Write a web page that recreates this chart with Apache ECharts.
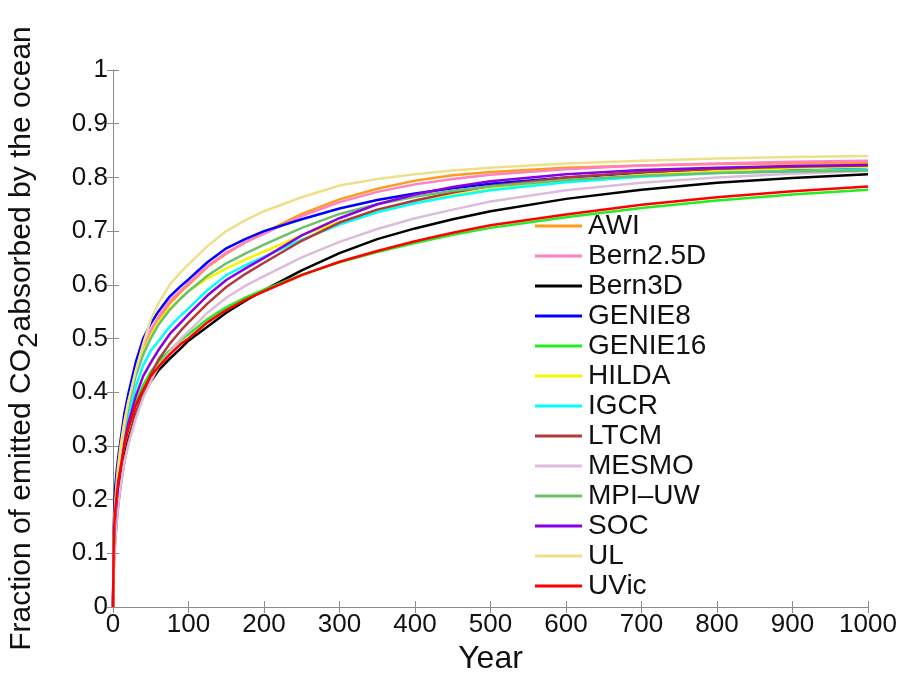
<!DOCTYPE html>
<html>
<head>
<meta charset="utf-8">
<script src="https://cdn.jsdelivr.net/npm/echarts@6/dist/echarts.min.js"></script>
<style>
html,body{margin:0;padding:0;background:#fff;}
#chart{width:898px;height:673px;}
</style>
</head>
<body>
<div id="chart"></div>
<script>
const years = [0,1,2,3,5,7,10,15,20,30,40,50,60,75,90,100,125,150,175,200,250,300,350,400,450,500,600,700,800,900,1000];
const modelNames = ['AWI','Bern2.5D','Bern3D','GENIE8','GENIE16','HILDA','IGCR','LTCM','MESMO','MPI\u2013UW','SOC','UL','UVic'];
const modelColors = ['#ff9a1a','#ff80c4','#000000','#0000ff','#22ee22','#f5f500','#00ffff','#b03a3a','#dcbcdc','#6cbf6c','#8a00e6','#eee08a','#ff0000'];

const AWI     = [0,0.12,0.165,0.195,0.235,0.265,0.30,0.345,0.38,0.44,0.478,0.51,0.535,0.565,0.587,0.60,0.633,0.658,0.679,0.697,0.732,0.759,0.779,0.794,0.804,0.81,0.818,0.822,0.825,0.826,0.827];
const Bern25D = [0,0.12,0.165,0.195,0.235,0.265,0.30,0.345,0.38,0.44,0.48,0.515,0.54,0.57,0.59,0.603,0.635,0.66,0.679,0.695,0.728,0.754,0.773,0.787,0.797,0.805,0.815,0.822,0.826,0.829,0.831];
const Bern3D  = [0,0.09,0.12,0.15,0.185,0.21,0.24,0.28,0.31,0.36,0.395,0.42,0.44,0.462,0.482,0.496,0.522,0.548,0.57,0.59,0.627,0.659,0.685,0.705,0.722,0.737,0.76,0.777,0.79,0.799,0.806];
const GENIE8  = [0,0.15,0.2,0.225,0.255,0.28,0.31,0.36,0.395,0.455,0.50,0.528,0.55,0.578,0.598,0.61,0.642,0.668,0.685,0.70,0.722,0.742,0.758,0.77,0.78,0.788,0.80,0.808,0.813,0.816,0.818];
const GENIE16 = [0,0.12,0.16,0.18,0.21,0.237,0.263,0.303,0.335,0.382,0.413,0.438,0.456,0.478,0.497,0.508,0.536,0.558,0.576,0.591,0.619,0.642,0.661,0.678,0.693,0.706,0.726,0.743,0.757,0.768,0.777];
const HILDA   = [0,0.12,0.165,0.195,0.235,0.265,0.30,0.345,0.38,0.435,0.475,0.505,0.53,0.556,0.575,0.588,0.612,0.63,0.647,0.662,0.692,0.717,0.737,0.754,0.767,0.778,0.794,0.805,0.812,0.817,0.820];
const IGCR    = [0,0.11,0.15,0.175,0.21,0.24,0.275,0.32,0.355,0.41,0.45,0.477,0.495,0.522,0.543,0.556,0.59,0.618,0.636,0.652,0.684,0.712,0.735,0.752,0.765,0.776,0.791,0.801,0.808,0.812,0.815];
const LTCM    = [0,0.07,0.1,0.125,0.16,0.19,0.225,0.27,0.305,0.36,0.40,0.433,0.46,0.49,0.515,0.53,0.565,0.596,0.62,0.641,0.682,0.716,0.74,0.757,0.772,0.784,0.80,0.81,0.816,0.82,0.822];
const MESMO   = [0,0.07,0.1,0.125,0.16,0.19,0.225,0.27,0.30,0.35,0.39,0.42,0.447,0.475,0.50,0.513,0.548,0.576,0.598,0.616,0.651,0.68,0.704,0.724,0.74,0.755,0.776,0.79,0.80,0.807,0.812];
const MPIUW   = [0,0.11,0.155,0.18,0.215,0.245,0.28,0.33,0.37,0.43,0.47,0.50,0.525,0.553,0.575,0.588,0.617,0.64,0.658,0.675,0.706,0.732,0.75,0.764,0.775,0.783,0.795,0.803,0.808,0.811,0.813];
const SOC     = [0,0.1,0.14,0.165,0.2,0.228,0.26,0.305,0.34,0.392,0.43,0.455,0.478,0.508,0.53,0.545,0.58,0.609,0.63,0.65,0.692,0.724,0.75,0.768,0.782,0.793,0.806,0.814,0.818,0.821,0.823];
const UL      = [0,0.11,0.15,0.18,0.22,0.25,0.29,0.34,0.38,0.44,0.49,0.535,0.565,0.60,0.624,0.638,0.672,0.70,0.72,0.737,0.763,0.785,0.797,0.806,0.813,0.818,0.826,0.831,0.835,0.838,0.840];
const UVic    = [0,0.12,0.16,0.18,0.21,0.235,0.26,0.30,0.33,0.375,0.405,0.43,0.447,0.47,0.49,0.50,0.53,0.553,0.572,0.588,0.618,0.643,0.663,0.681,0.697,0.711,0.731,0.749,0.763,0.774,0.783];

const modelValues = [AWI,Bern25D,Bern3D,GENIE8,GENIE16,HILDA,IGCR,LTCM,MESMO,MPIUW,SOC,UL,UVic];
const xTicks = [0,100,200,300,400,500,600,700,800,900,1000];
const yTicks = [0,0.1,0.2,0.3,0.4,0.5,0.6,0.7,0.8,0.9,1];

const FONT = '"Liberation Sans", Arial, sans-serif';
const axisGray = '#8a8a8a';

const series = modelNames.map((n, i) => ({
  name: n,
  type: 'line',
  xAxisIndex: 0,
  yAxisIndex: 0,
  data: years.map((y, k) => [y, modelValues[i][k]]),
  showSymbol: false,
  symbol: 'none',
  smooth: false,
  lineStyle: { color: modelColors[i], width: 2.5, join: 'round' },
  itemStyle: { color: modelColors[i] },
  z: 2 + i
}));

const chart = echarts.init(document.getElementById('chart'), null, { renderer: 'canvas' });
chart.setOption({
  animation: false,
  backgroundColor: '#ffffff',
  grid: { left: 113, right: 30, top: 70, bottom: 66, containLabel: false, outerBoundsMode: 'none' },
  legend: {
    orient: 'vertical',
    left: 535,
    top: 211,
    icon: 'rect',
    itemWidth: 47,
    itemHeight: 3,
    itemGap: 0,
    padding: 0,
    data: modelNames,
    textStyle: { fontFamily: FONT, fontSize: 28, color: '#111', lineHeight: 30, padding: [0,0,0,1] }
  },
  xAxis: [
    {
      type: 'value', min: xTicks[0], max: xTicks[xTicks.length-1], interval: 100,
      position: 'bottom',
      name: 'Year', nameLocation: 'middle', nameGap: 31,
      nameTextStyle: { fontFamily: FONT, fontSize: 32, color: '#111', verticalAlign: 'top' },
      axisLine: { show: true, lineStyle: { color: axisGray, width: 1 } },
      axisTick: { show: true, inside: true, length: 6, lineStyle: { color: axisGray } },
      axisLabel: { fontFamily: FONT, fontSize: 26, color: '#111', margin: 5, formatter: v => String(v) },
      splitLine: { show: false }
    },
    {
      type: 'value', min: xTicks[0], max: xTicks[xTicks.length-1], interval: 100,
      position: 'top',
      axisLine: { show: true, lineStyle: { color: axisGray, width: 1 } },
      axisTick: { show: true, inside: true, length: 6, lineStyle: { color: axisGray } },
      axisLabel: { show: false },
      splitLine: { show: false }
    }
  ],
  yAxis: [
    {
      type: 'value', min: yTicks[0], max: yTicks[yTicks.length-1], interval: 0.1,
      position: 'left',
      name: '{a|Fraction of emitted CO}{s|2}{a|absorbed by the ocean}',
      nameLocation: 'middle', nameGap: 70, nameRotate: 90,
      nameTextStyle: {
        fontFamily: FONT, fontSize: 30, color: '#111',
        rich: {
          a: { fontFamily: FONT, fontSize: 30, color: '#111' },
          s: { fontFamily: FONT, fontSize: 28, color: '#111', padding: [15, 1, 0, 1] }
        }
      },
      axisLine: { show: true, lineStyle: { color: axisGray, width: 1 } },
      axisTick: { show: true, inside: true, length: 6, lineStyle: { color: axisGray } },
      axisLabel: { fontFamily: FONT, fontSize: 26, color: '#111', margin: 5, formatter: v => String(Math.round(v*10)/10) },
      splitLine: { show: false }
    },
    {
      type: 'value', min: yTicks[0], max: yTicks[yTicks.length-1], interval: 0.1,
      position: 'right',
      axisLine: { show: true, lineStyle: { color: axisGray, width: 1 } },
      axisTick: { show: true, inside: true, length: 6, lineStyle: { color: axisGray } },
      axisLabel: { show: false },
      splitLine: { show: false }
    }
  ],
  series: series
});
</script>
</body>
</html>
